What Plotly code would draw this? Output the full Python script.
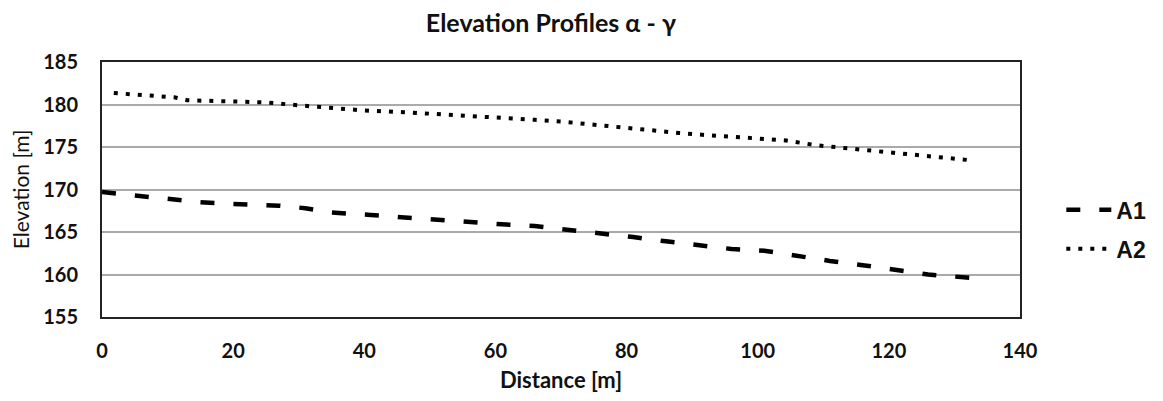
import plotly.graph_objects as go

# A1 profile (dashed)
a1_distance = [0, 5, 10, 15, 20, 27, 31, 35, 41, 46, 51, 56, 61, 66, 71, 76, 81, 86,
               92, 96, 101, 105, 111, 116, 121, 126, 132.6]
a1_elevation = [169.7, 169.3, 168.9, 168.5, 168.3, 168.1, 167.8, 167.3, 167.0, 166.7,
                166.4, 166.2, 165.9, 165.7, 165.3, 164.8, 164.4, 163.9, 163.4, 163.0,
                162.8, 162.3, 161.6, 161.1, 160.6, 160.0, 159.6]

# A2 profile (dotted)
a2_distance = [1.8, 6, 11, 13, 19, 25, 30, 34, 40, 46, 51, 53, 58, 62, 66, 70, 75, 80,
               84, 88, 93, 100, 104, 109, 113, 117, 122, 127, 133]
a2_elevation = [181.35, 181.1, 180.85, 180.5, 180.35, 180.25, 179.9, 179.65, 179.3, 179.1,
                178.9, 178.75, 178.6, 178.45, 178.2, 178.0, 177.6, 177.25, 176.95, 176.65,
                176.35, 176.0, 175.8, 175.2, 174.9, 174.6, 174.2, 173.75, 173.4]

x_ticks = [0, 20, 40, 60, 80, 100, 120, 140]
y_ticks = [155, 160, 165, 170, 175, 180, 185]

fig = go.Figure()
fig.add_trace(go.Scatter(x=a1_distance, y=a1_elevation, mode="lines", name="<b>A1</b>",
                         legendgroup="a1",
                         line=dict(color="black", width=4.5, dash="14px,19px")))
fig.add_trace(go.Scatter(x=a2_distance, y=a2_elevation, mode="lines", name="<b>A2</b>",
                         legendgroup="a2",
                         line=dict(color="black", width=4, dash="4px,8px")))

FONT = "Lato, Open Sans, sans-serif"
tick_font = dict(family=FONT, size=20, color="#111", weight="bold")
fig.update_layout(
    width=1155, height=393,
    margin=dict(l=90, r=141, t=54, b=83),
    paper_bgcolor="white", plot_bgcolor="white",
    title=dict(text="<b>Elevation Profiles α - γ</b>", x=0.47, xanchor="center",
               y=0.962, yanchor="middle",
               font=dict(family=FONT, size=25, color="#111")),
    xaxis=dict(range=[0, 140], tickvals=x_ticks, showgrid=False, zeroline=False,
               showline=True, linecolor="#222", linewidth=2, mirror=True,
               tickfont=tick_font, ticklabelstandoff=15,
               title=dict(text="<b>Distance [m]</b>", standoff=12,
                          font=dict(family=FONT, size=22, color="#111"))),
    yaxis=dict(range=[155, 185], tickvals=y_ticks, showgrid=True, gridcolor="#aaaaaa",
               gridwidth=1.5, zeroline=False,
               showline=True, linecolor="#222", linewidth=2, mirror=True,
               tickfont=tick_font, ticklabelstandoff=18,
               title=dict(text="Elevation [m]", standoff=8,
                          font=dict(family=FONT, size=21, color="#111"))),
    legend=dict(x=1.045, y=0.344, xanchor="left", yanchor="middle",
                font=dict(family="Liberation Sans, Arial, sans-serif", size=23, color="#111"),
                itemwidth=45, tracegroupgap=6, bgcolor="rgba(0,0,0,0)"),
    showlegend=True,
)
fig.write_html("out.html")
